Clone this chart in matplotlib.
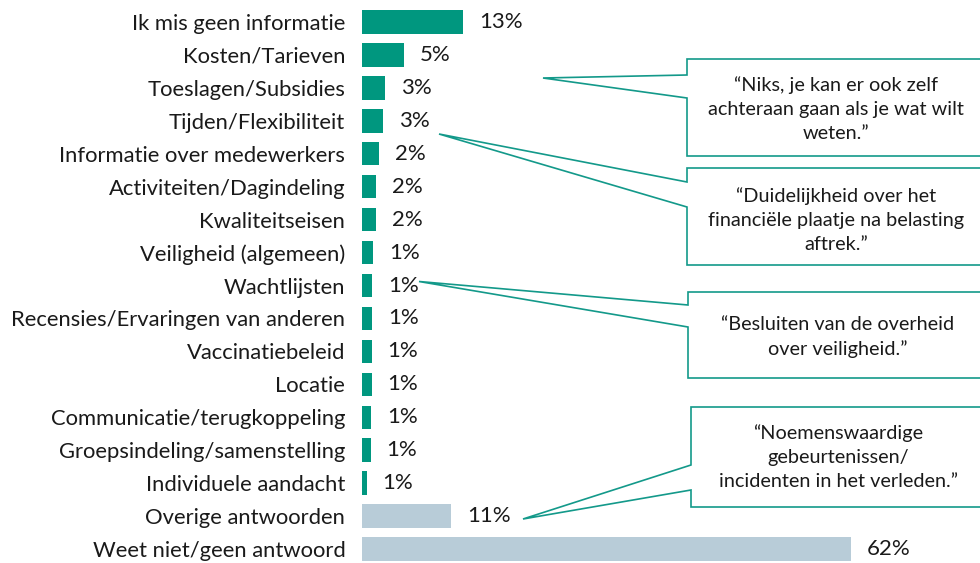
import matplotlib
matplotlib.use("Agg")
import matplotlib.pyplot as plt
from matplotlib.lines import Line2D

plt.rcParams['font.family'] = ['Lato', 'DejaVu Sans']

categories = [
    "Ik mis geen informatie", "Kosten/Tarieven", "Toeslagen/Subsidies",
    "Tijden/Flexibiliteit", "Informatie over medewerkers",
    "Activiteiten/Dagindeling", "Kwaliteitseisen", "Veiligheid (algemeen)",
    "Wachtlijsten", "Recensies/Ervaringen van anderen", "Vaccinatiebeleid",
    "Locatie", "Communicatie/terugkoppeling", "Groepsindeling/samenstelling",
    "Individuele aandacht", "Overige antwoorden", "Weet niet/geen antwoord",
]
values = [12.8, 5.3, 2.9, 2.66, 2.2, 1.73, 1.73, 1.44, 1.31, 1.27, 1.22,
          1.22, 1.14, 1.10, 0.59, 11.3, 62.0]
value_labels = ["13%", "5%", "3%", "3%", "2%", "2%", "2%", "1%", "1%", "1%",
                "1%", "1%", "1%", "1%", "1%", "11%", "62%"]
is_other = [False] * 15 + [True, True]

quotes = [
    "\u201cNiks, je kan er ook zelf\nachteraan gaan als je wat wilt\nweten.\u201d",
    "\u201cDuidelijkheid over het\nfinanci\u00eble plaatje na belasting\naftrek.\u201d",
    "\u201cBesluiten van de overheid\nover veiligheid.\u201d",
    "\u201cNoemenswaardige\ngebeurtenissen/\nincidenten in het verleden.\u201d",
]

TEAL = "#00977F"
GREY = "#B8CCD8"
LINE = "#13998A"

W, H = 980, 563
fig = plt.figure(figsize=(W / 100, H / 100), dpi=100)

ax_left, row0, rowN = 362, 22.0, 549.0
step = (rowN - row0) / (len(categories) - 1)
top_px = row0 - 0.5 * step
bot_px = rowN + 0.5 * step
px_per_unit = (851 - 362) / 62.0
xmax = (W - ax_left) / px_per_unit
ax = fig.add_axes([ax_left / W, (H - bot_px) / H, (W - ax_left) / W, (bot_px - top_px) / H])

ypos = list(range(len(categories)))
colors = [GREY if o else TEAL for o in is_other]
ax.barh(ypos, values, height=0.71, color=colors)
ax.set_ylim(len(categories) - 0.5, -0.5)
ax.set_xlim(0, xmax)
ax.set_yticks(ypos)
ax.set_yticklabels(categories, fontsize=15.8, color="#1a1a1a")
ax.tick_params(axis="y", length=0, pad=12)
ax.set_xticks([])
for s in ax.spines.values():
    s.set_visible(False)

for y, v, lab in zip(ypos, values, value_labels):
    ax.annotate(lab, xy=(v, y), xytext=(11.5, 0), textcoords="offset points",
                ha="left", va="center", fontsize=16, color="#1a1a1a")


def fxy(x, y):
    return x / W, 1 - y / H


def callout(left, top, bottom, a1, a2, tip, text, tx, ty):
    pts = [(W + 10, top), (left, top), (left, a1), tip, (left, a2),
           (left, bottom), (W + 10, bottom)]
    xs = [fxy(*p)[0] for p in pts]
    ys = [fxy(*p)[1] for p in pts]
    fig.add_artist(Line2D(xs, ys, transform=fig.transFigure, color=LINE,
                          lw=1.2, solid_joinstyle="miter"))
    fx, fy = fxy(tx, ty)
    fig.text(fx, fy, text, ha="center", va="center", fontsize=14.3,
             color="#1a1a1a", linespacing=1.5)


callout(687, 59, 156, 75, 98, (543, 78), quotes[0], 836, 109)
callout(687, 168, 265, 182, 207, (439, 134), quotes[1], 836, 220)
callout(688, 292, 378, 305, 327, (419, 281.5), quotes[2], 838, 337)
callout(691, 407, 507, 465, 490, (523, 519), quotes[3], 838, 457)

fig.savefig("out.png", dpi=100)
